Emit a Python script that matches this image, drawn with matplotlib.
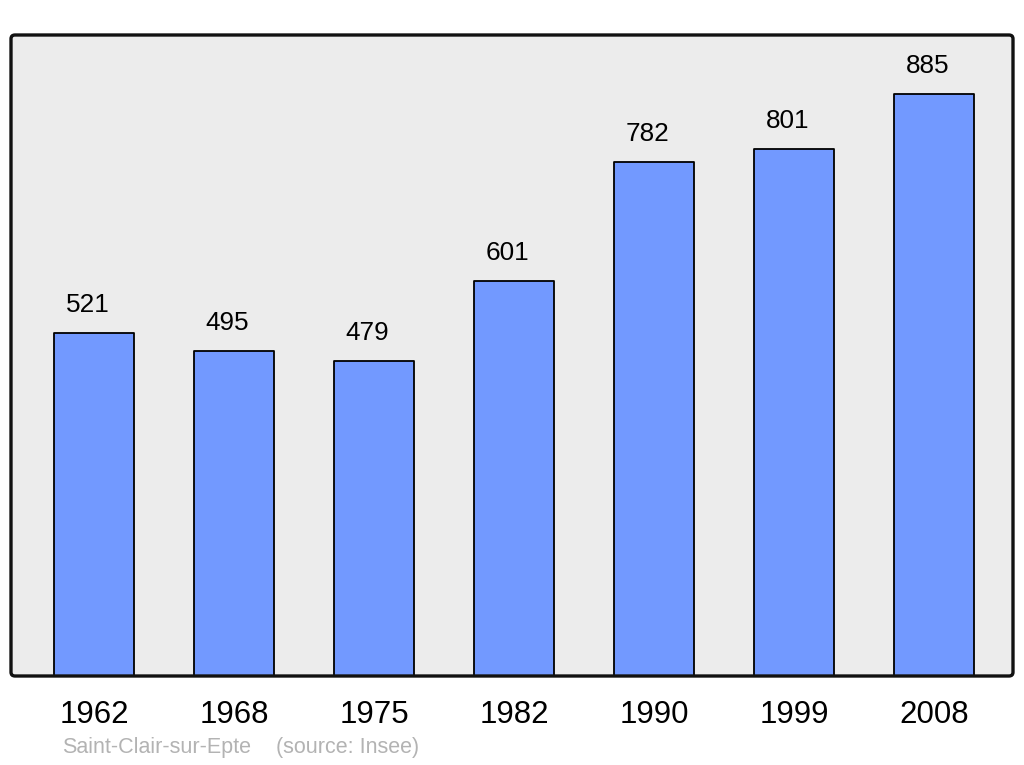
import matplotlib
matplotlib.use("Agg")
import matplotlib.pyplot as plt
from matplotlib.patches import FancyBboxPatch

years = ["1962", "1968", "1975", "1982", "1990", "1999", "2008"]
population = [521, 495, 479, 601, 782, 801, 885]
commune = "Saint-Clair-sur-Epte"
source = "(source: Insee)"

plt.rcParams['font.family'] = ['Liberation Sans', 'DejaVu Sans']

fig = plt.figure(figsize=(10.24, 7.65), dpi=100)
fig.patch.set_facecolor('white')
ax = fig.add_axes([11/1024, 1-676/765, (1013-11)/1024, (676-35)/765])
ax.set_facecolor('none')

# rounded frame background
frame_bg = FancyBboxPatch((0, 0), 1, 1, boxstyle="round,pad=0,rounding_size=0.004",
                          transform=ax.transAxes, facecolor='#ececec', edgecolor='none',
                          zorder=0, clip_on=False, mutation_aspect=1.5)
ax.add_patch(frame_bg)

x = list(range(len(years)))
bars = ax.bar(x, population, width=0.57, color='#7299ff', edgecolor='black',
              linewidth=1.3, zorder=2)
for b in bars:
    b.set_joinstyle('round')

for xi, v in zip(x, population):
    ax.annotate(str(v), (xi, v), xytext=(-4.8, 20.2), textcoords='offset points',
                ha='center', va='center', fontsize=18.8, color='black')

ax.set_xlim(-0.593, 6.564)
ax.set_ylim(0, 975)
ax.set_xticks(x)
ax.set_xticklabels(years, fontsize=22.5)
ax.tick_params(axis='x', length=0, pad=17)
ax.set_yticks([])
for s in ax.spines.values():
    s.set_visible(False)

frame = FancyBboxPatch((0, 0), 1, 1, boxstyle="round,pad=0,rounding_size=0.004",
                       transform=ax.transAxes, facecolor='none', edgecolor='#111111',
                       linewidth=2.4, zorder=5, clip_on=False, mutation_aspect=1.5)
ax.add_patch(frame)

fig.text(62/1024, 1-748/765, commune, fontsize=15.5, color='#b3b3b3', ha='left', va='center')
fig.text(276/1024, 1-748/765, source, fontsize=15.5, color='#b3b3b3', ha='left', va='center')

fig.savefig("out.png", dpi=100)
